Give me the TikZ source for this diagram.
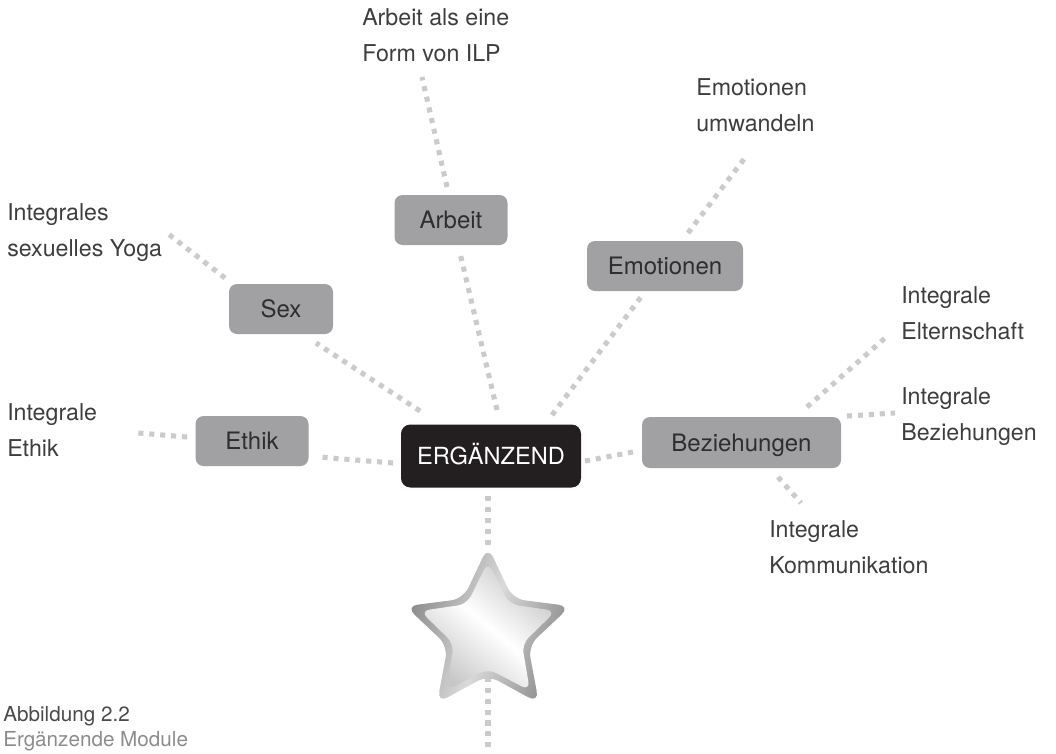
\documentclass[tikz,border=0pt]{standalone}
\usepackage{fontspec}
\setmainfont{TeX Gyre Heros}
\usetikzlibrary{shapes.geometric,backgrounds}
\definecolor{boxgray}{HTML}{A1A1A4}
\definecolor{dotgray}{HTML}{CBCBCB}
\definecolor{ergfill}{HTML}{231F20}
\definecolor{txtdark}{HTML}{2E2E2E}
\definecolor{lbltext}{HTML}{3E3E3E}
\definecolor{capdark}{HTML}{4A4A4A}
\definecolor{capgray}{HTML}{8C8C8C}
\definecolor{starrim}{HTML}{8A8A8A}
\definecolor{starrimlight}{HTML}{DADADA}
\definecolor{starface}{HTML}{C6C6C6}
\begin{document}
\begin{tikzpicture}[x=0.75pt,y=-0.75pt,
  box/.style={fill=boxgray,rounded corners=6pt,text=txtdark,font=\fontsize{18}{21}\selectfont,inner sep=0pt,text height=13pt,text depth=0pt},
  hub/.style={fill=ergfill,rounded corners=7pt,text=white,font=\fontsize{17.7}{21}\selectfont,inner sep=0pt,text height=13pt,text depth=0pt},
  lbl/.style={anchor=north west,inner sep=0pt,align=left,text=lbltext,font=\fontsize{17.4}{27}\selectfont},
  dots/.style={draw=dotgray,line width=3.8pt,dash pattern=on 3.8pt off 4.4pt}
]
\useasboundingbox (0,0) rectangle (1056,753);

% central and module boxes
\node[hub,minimum width=135pt,minimum height=47.25pt] (erg) at (491,456) {ERGÄNZEND};
\node[box,minimum width=84.75pt,minimum height=37.5pt] (ethik) at (252,441) {Ethik};
\node[box,minimum width=78pt,minimum height=37.5pt] (sex) at (281,309) {Sex};
\node[box,minimum width=84.75pt,minimum height=37.5pt] (arbeit) at (451,220) {Arbeit};
\node[box,minimum width=117pt,minimum height=37.5pt] (emo) at (665,266) {Emotionen};
\node[box,minimum width=149.25pt,minimum height=38.25pt] (bez) at (741.5,442.5) {Beziehungen};

% outer labels
\node[lbl] (larbeit) at (362,8) {Arbeit als eine\\Form von ILP};
\node[lbl] (lemo) at (696,78) {Emotionen\\umwandeln};
\node[lbl] (lsex) at (7,203) {Integrales\\sexuelles Yoga};
\node[lbl] (lethik) at (7,403) {Integrale\\Ethik};
\node[lbl] (lelt) at (901,286) {Integrale\\Elternschaft};
\node[lbl] (lbz) at (901,387) {Integrale\\Beziehungen};
\node[lbl] (lkom) at (769,520) {Integrale\\Kommunikation};

% star
\node[star,star points=5,star point ratio=2.05,minimum size=130pt,inner sep=0pt,
      rounded corners=9pt,left color=starrim,right color=starrim,middle color=starrimlight,
      shading angle=70] (star) at (488,633) {};
\node[star,star points=5,star point ratio=2.0,minimum size=107pt,inner sep=0pt,
      rounded corners=7pt,top color=starface,bottom color=starface,middle color=white,
      shading angle=-40] (starcore) at (star.center) {};
\coordinate (bottomend) at (488,753);

% caption
\node[anchor=north west,inner sep=0pt,align=left,font=\fontsize{15.5}{18.75}\selectfont] (caption) at (3,706)
  {\textcolor{capdark}{Abbildung 2.2}\\\textcolor{capgray}{Ergänzende Module}};

% dotted connectors
\begin{scope}[on background layer]
\draw[dots] ([shift={(-98,7)}]erg.center) -- ([shift={(66,16)}]ethik.center);
\draw[dots] ([shift={(-65,-4)}]ethik.center) -- ([shift={(131,30)}]lethik.north west);
\draw[dots] ([shift={(-71,-45)}]erg.center) -- ([shift={(35,34)}]sex.center);
\draw[dots] ([shift={(-56,-31)}]sex.center) -- ([shift={(160,30)}]lsex.north west);
\draw[dots] ([shift={(6,-46)}]erg.center) -- ([shift={(9,33)}]arbeit.center);
\draw[dots] ([shift={(-4,-33)}]arbeit.center) -- ([shift={(60,69)}]larbeit.north west);
\draw[dots] ([shift={(61,-41)}]erg.center) -- ([shift={(-24,31)}]emo.center);
\draw[dots] ([shift={(23,-33)}]emo.center) -- ([shift={(48,81)}]lemo.north west);
\draw[dots] ([shift={(94,5)}]erg.center) -- ([shift={(-108.5,9.5)}]bez.center);
\draw[dots] ([shift={(65.5,-35.5)}]bez.center) -- ([shift={(-16,52)}]lelt.north west);
\draw[dots] ([shift={(105.5,-26.5)}]bez.center) -- ([shift={(-6,26)}]lbz.north west);
\draw[dots] ([shift={(36.5,34.5)}]bez.center) -- ([shift={(32,-17)}]lkom.north west);
\draw[dots] ([shift={(-3,40)}]erg.center) -- ([shift={(0,-87)}]star.center);
\draw[dots] (star.center) -- (bottomend);
\end{scope}
\end{tikzpicture}
\end{document}
